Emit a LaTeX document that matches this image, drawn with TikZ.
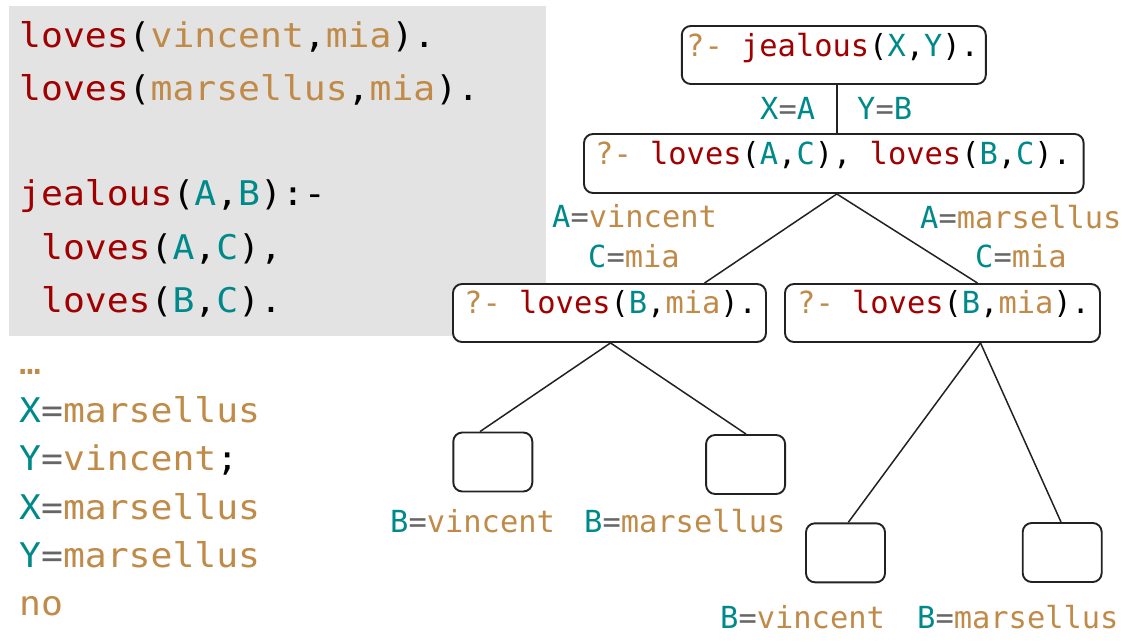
\documentclass[tikz,border=0pt]{standalone}
\usepackage{fontspec}
\newfontfamily\codefont{DejaVu Sans Mono}[FakeStretch=1.07]
\newfontfamily\treefont{DejaVu Sans Mono}
\definecolor{predc}{HTML}{A00000}
\definecolor{atomc}{HTML}{C08A48}
\definecolor{varc}{HTML}{00898A}
\definecolor{eqc}{HTML}{666666}
\definecolor{bgc}{HTML}{E3E3E3}
\definecolor{linec}{HTML}{222222}
\newcommand\cP[1]{\textcolor{predc}{#1}}
\newcommand\cA[1]{\textcolor{atomc}{#1}}
\newcommand\cV[1]{\textcolor{varc}{#1}}
\newcommand\cE{\textcolor{eqc}{=}}
\begin{document}
\begin{tikzpicture}[x=1pt,y=-1pt,
  code/.style={anchor=base west, inner sep=0pt, font=\codefont\fontsize{34}{34}\selectfont},
  tt/.style={anchor=base west, inner sep=0pt, font=\treefont\fontsize{30.4}{30.4}\selectfont},
  goal/.style={draw=linec, fill=white, line width=1.9pt, rounded corners=9pt, inner sep=0pt},
  leaf/.style={draw=linec, fill=white, line width=1.9pt, rounded corners=9pt, inner sep=0pt, minimum width=79pt, minimum height=59pt},
  edge/.style={draw=linec, line width=1.5pt}]
\useasboundingbox (0,0) rectangle (1145,644);
\fill[bgc] (9,6) rectangle (546,336);
% program
\node[code] (c1) at (19,48) {\cP{loves}(\cA{vincent},\cA{mia}).};
\node[code] (c2) at (19,100.8) {\cP{loves}(\cA{marsellus},\cA{mia}).};
\node[code] (c3) at (19,206) {\cP{jealous}(\cV{A},\cV{B}):-};
\node[code] (c4) at (40.9,259) {\cP{loves}(\cV{A},\cV{C}),};
\node[code] (c5) at (40.9,312) {\cP{loves}(\cV{B},\cV{C}).};
% answers
\node[code] (r0) at (19,374) {\cA{…}};
\node[code] (r1) at (19,422) {\cV{X}\cE\cA{marsellus}};
\node[code] (r2) at (19,470) {\cV{Y}\cE\cA{vincent};};
\node[code] (r3) at (19,519) {\cV{X}\cE\cA{marsellus}};
\node[code] (r4) at (19,567) {\cV{Y}\cE\cA{marsellus}};
\node[code] (r5) at (19,615) {\cA{no}};
% tree boxes
\node[goal, minimum width=304pt, minimum height=58pt] (top) at (833.8,55) {};
\node[goal, minimum width=499.6pt, minimum height=59pt] (b2) at (833.8,163.5) {};
\node[goal, minimum width=313pt, minimum height=58pt] (b3l) at (609.5,313) {};
\node[goal, minimum width=315pt, minimum height=58pt] (b3r) at (942.5,313) {};
\node[leaf] (ll) at (492.8,462) {};
\node[leaf] (lr) at (745.6,464.5) {};
\node[leaf] (rl) at (845.5,552.8) {};
\node[leaf] (rr) at (1062.2,552.5) {};
% goal texts
\node[tt] (t1) at (686,57) {\cA{?-} \cP{jealous}(\cV{X},\cV{Y}).};
\node[tt] (t2) at (595,165) {\cA{?-} \cP{loves}(\cV{A},\cV{C}), \cP{loves}(\cV{B},\cV{C}).};
\node[tt] (t3) at (464,313) {\cA{?-} \cP{loves}(\cV{B},\cA{mia}).};
\node[tt] (t4) at (797,313) {\cA{?-} \cP{loves}(\cV{B},\cA{mia}).};
% connectors
\draw[edge] ([xshift=3pt]top.south) -- ([xshift=3pt]b2.north);
\draw[edge] ([xshift=3pt]b2.south) -- ([xshift=95pt]b3l.north);
\draw[edge] ([xshift=3pt]b2.south) -- ([xshift=35pt]b3r.north);
\draw[edge] ([xshift=1pt]b3l.south) -- ([xshift=-12.8pt]ll.north);
\draw[edge] ([xshift=1pt]b3l.south) -- ([xshift=0.4pt]lr.north);
\draw[edge] ([xshift=38pt]b3r.south) -- ([xshift=2.8pt]rl.north);
\draw[edge] ([xshift=38pt]b3r.south) -- ([xshift=-1.2pt]rr.north);
% edge labels
\node[tt] (l1) at (760,120) {\cV{X}\cE\cV{A}};
\node[tt] (l2) at (857,120) {\cV{Y}\cE\cV{B}};
\node[tt] (l3) at (552,228) {\cV{A}\cE\cA{vincent}};
\node[tt] (l4) at (588,267) {\cV{C}\cE\cA{mia}};
\node[tt] (l5) at (920,229) {\cV{A}\cE\cA{marsellus}};
\node[tt] (l6) at (975,267) {\cV{C}\cE\cA{mia}};
\node[tt] (l7) at (390,532) {\cV{B}\cE\cA{vincent}};
\node[tt] (l8) at (584,532) {\cV{B}\cE\cA{marsellus}};
\node[tt] (l9) at (720,628) {\cV{B}\cE\cA{vincent}};
\node[tt] (l10) at (917,628) {\cV{B}\cE\cA{marsellus}};
\end{tikzpicture}
\end{document}
